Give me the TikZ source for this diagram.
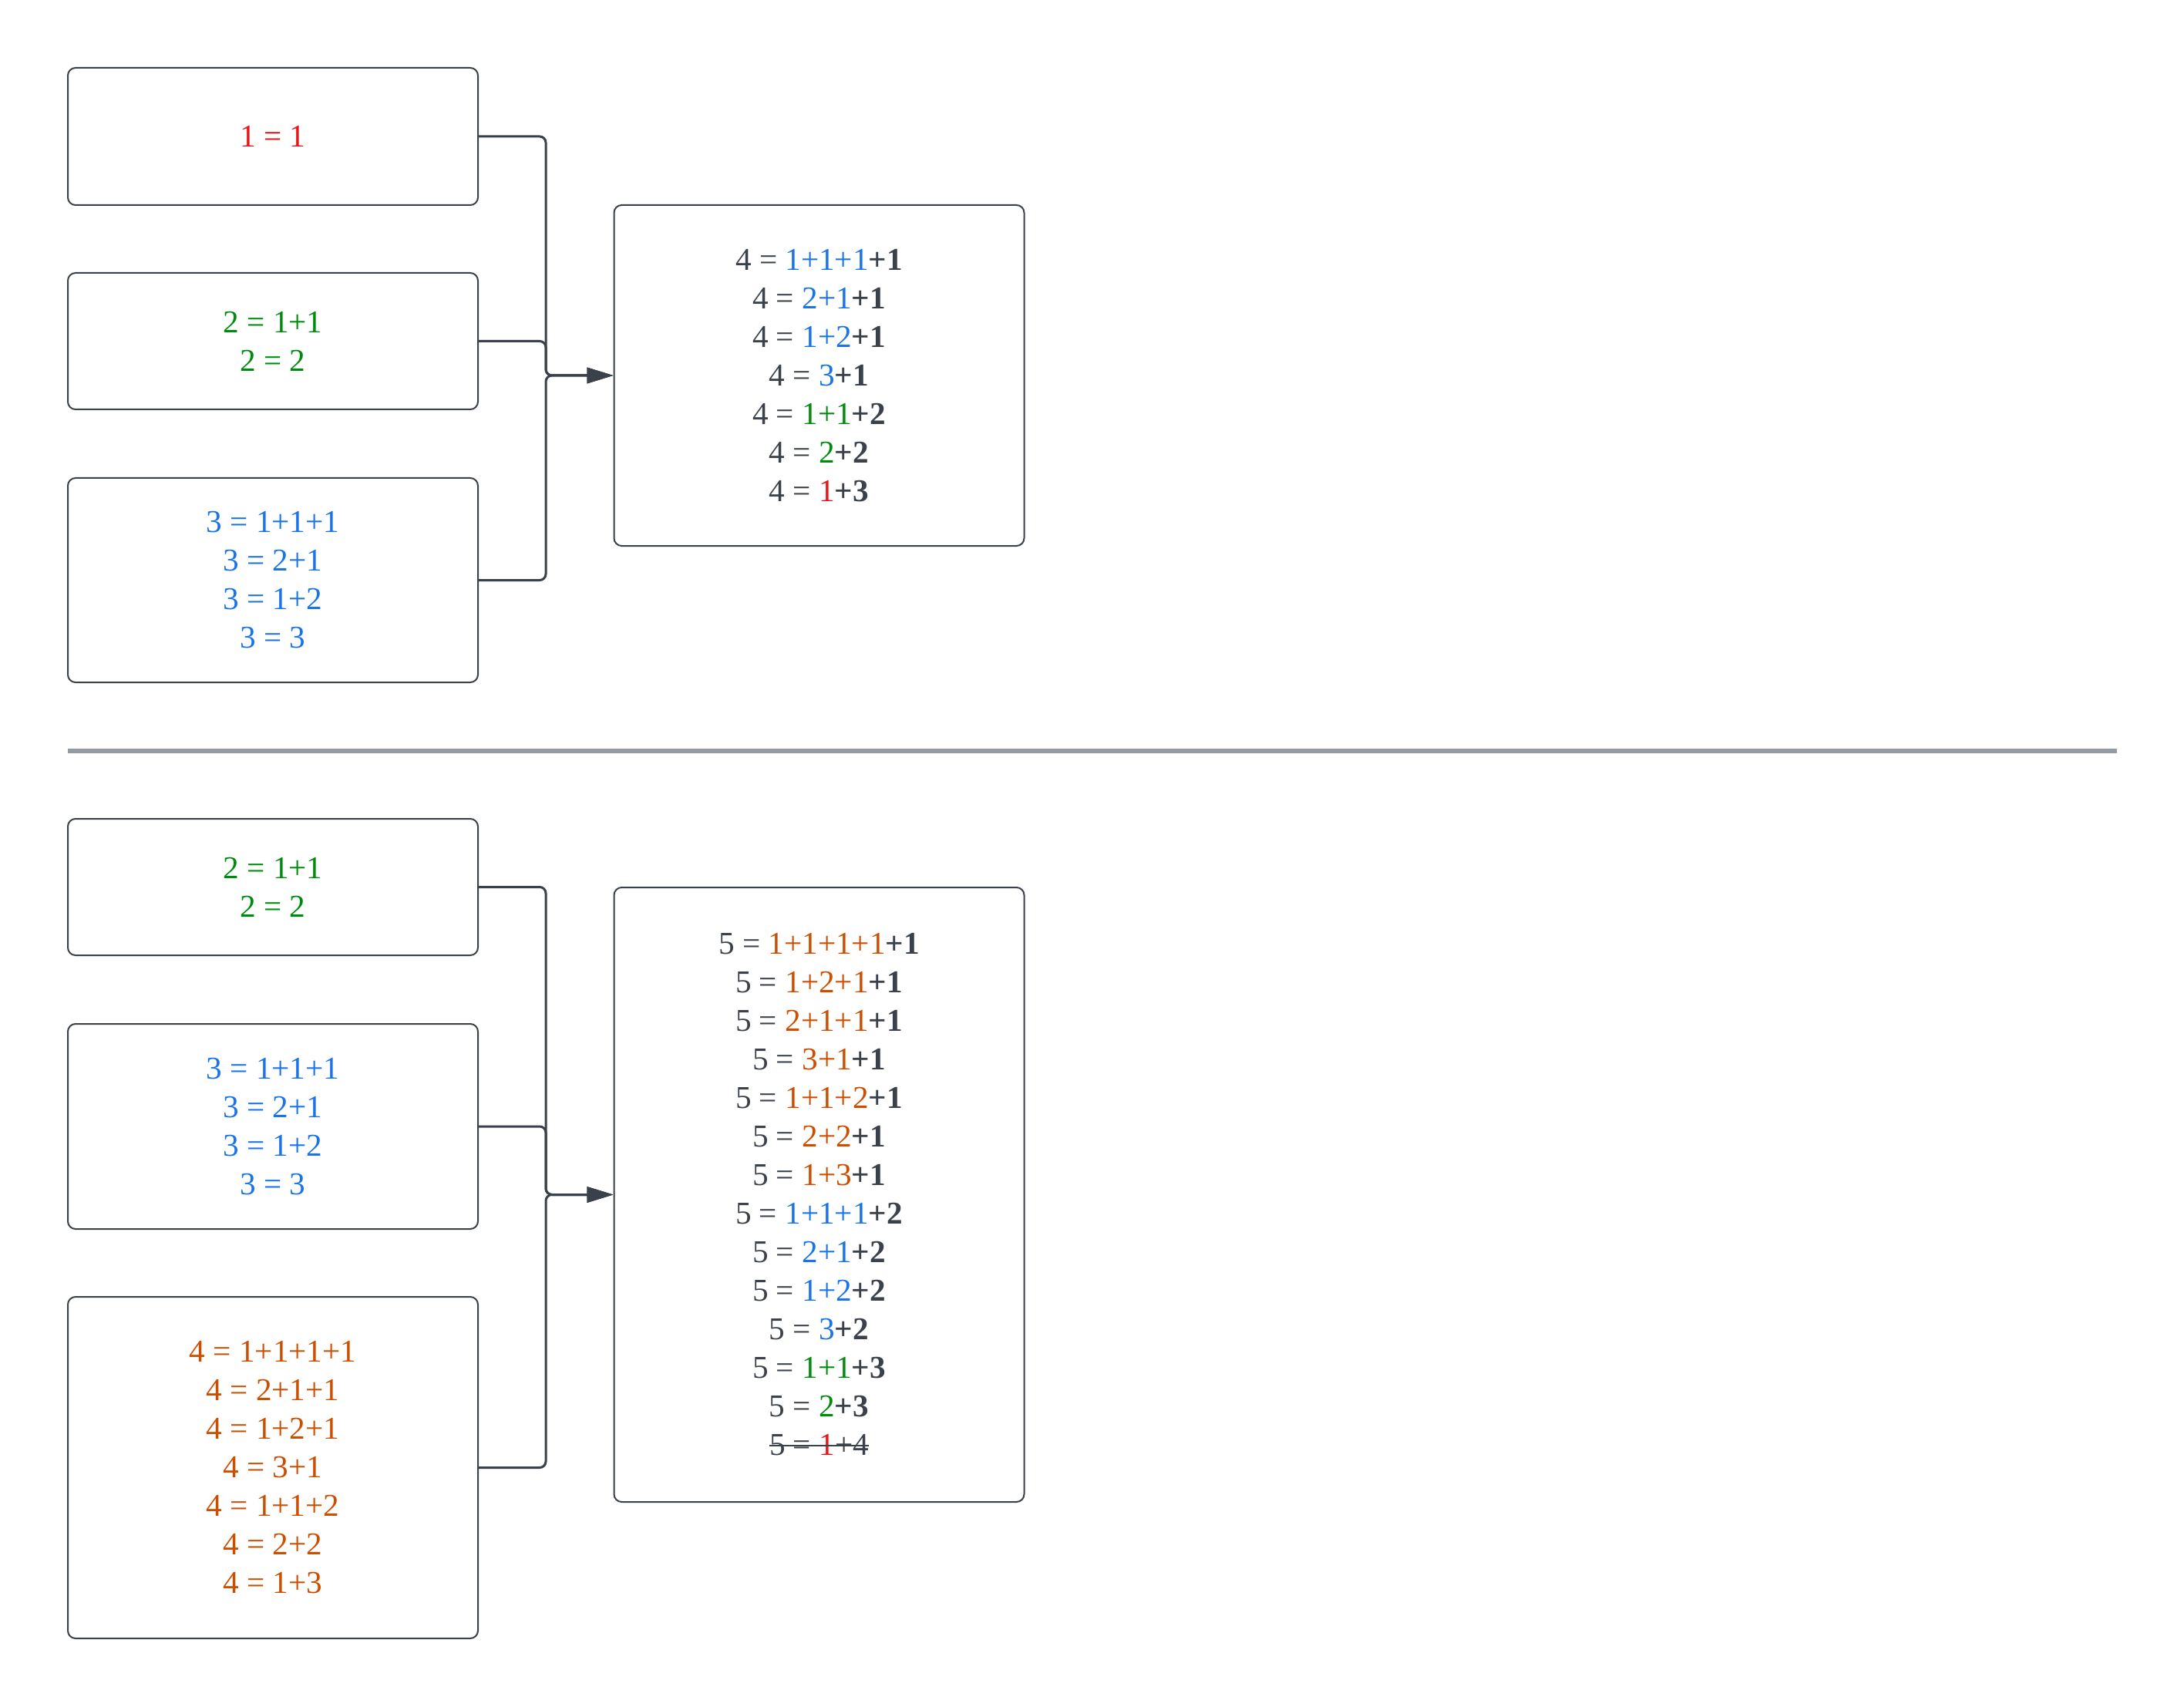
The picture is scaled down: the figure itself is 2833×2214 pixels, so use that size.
\documentclass[tikz,border=0pt]{standalone}
\usepackage{fontspec}
\setmainfont{Liberation Serif}
\usetikzlibrary{arrows.meta}
\definecolor{dk}{HTML}{3A414A}
\definecolor{rd}{HTML}{E81416}
\definecolor{gn}{HTML}{008A0E}
\definecolor{bl}{HTML}{1A73E8}
\definecolor{og}{HTML}{CC4E00}
\definecolor{sepc}{HTML}{959BA5}
\newcommand\strk[1]{\setbox0\hbox{#1}\rlap{#1}\textcolor{dk}{\rule[0.3em]{\wd0}{0.9pt}}}
\begin{document}
\begin{tikzpicture}[x=0.5pt,y=-0.5pt,
  box/.style={draw=dk,line width=1pt,rounded corners=5pt,minimum width=266pt,
    inner sep=0pt,align=center,text=dk,font=\fontsize{20.6}{25}\selectfont},
  conn/.style={draw=dk,line width=1.5pt,rounded corners=4pt,-{Triangle[length=17pt,width=10pt]}}]
\useasboundingbox (0,0) rectangle (2833,2214);
% top section
\node[box,minimum height=89pt] (A) at (354,177) {\textcolor{rd}{1 = 1}};
\node[box,minimum height=88.5pt] (B) at (354,442.5) {\textcolor{gn}{2 = 1+1}\\\textcolor{gn}{2 = 2}};
\node[box,minimum height=132.5pt] (C) at (354,752.5) {\textcolor{bl}{3 = 1+1+1}\\\textcolor{bl}{3 = 2+1}\\\textcolor{bl}{3 = 1+2}\\\textcolor{bl}{3 = 3}};
\node[box,minimum height=221pt] (R1) at (1062.5,487) {%
4 = \textcolor{bl}{1+1+1}\textbf{+1}\\
4 = \textcolor{bl}{2+1}\textbf{+1}\\
4 = \textcolor{bl}{1+2}\textbf{+1}\\
4 = \textcolor{bl}{3}\textbf{+1}\\
4 = \textcolor{gn}{1+1}\textbf{+2}\\
4 = \textcolor{gn}{2}\textbf{+2}\\
4 = \textcolor{rd}{1}\textbf{+3}};
\coordinate (j1) at (708,487);
\draw[conn] (A.east) -| (j1) -- (R1.west);
\draw[conn] (B.east) -| (j1) -- (R1.west);
\draw[conn] (C.east) -| (j1) -- (R1.west);
% separator
\coordinate (s1) at (88,974);
\coordinate (s2) at (2746,974);
\draw[sepc,line width=3pt] (s1) -- (s2);
% bottom section
\node[box,minimum height=88.5pt] (D) at (354,1150.5) {\textcolor{gn}{2 = 1+1}\\\textcolor{gn}{2 = 2}};
\node[box,minimum height=133pt] (E) at (354,1461) {\textcolor{bl}{3 = 1+1+1}\\\textcolor{bl}{3 = 2+1}\\\textcolor{bl}{3 = 1+2}\\\textcolor{bl}{3 = 3}};
\node[box,minimum height=221.5pt] (F) at (354,1903.5) {%
\textcolor{og}{4 = 1+1+1+1}\\\textcolor{og}{4 = 2+1+1}\\\textcolor{og}{4 = 1+2+1}\\\textcolor{og}{4 = 3+1}\\\textcolor{og}{4 = 1+1+2}\\\textcolor{og}{4 = 2+2}\\\textcolor{og}{4 = 1+3}};
\node[box,minimum height=398.5pt] (R2) at (1062.5,1549.5) {%
5 = \textcolor{og}{1+1+1+1}\textbf{+1}\\
5 = \textcolor{og}{1+2+1}\textbf{+1}\\
5 = \textcolor{og}{2+1+1}\textbf{+1}\\
5 = \textcolor{og}{3+1}\textbf{+1}\\
5 = \textcolor{og}{1+1+2}\textbf{+1}\\
5 = \textcolor{og}{2+2}\textbf{+1}\\
5 = \textcolor{og}{1+3}\textbf{+1}\\
5 = \textcolor{bl}{1+1+1}\textbf{+2}\\
5 = \textcolor{bl}{2+1}\textbf{+2}\\
5 = \textcolor{bl}{1+2}\textbf{+2}\\
5 = \textcolor{bl}{3}\textbf{+2}\\
5 = \textcolor{gn}{1+1}\textbf{+3}\\
5 = \textcolor{gn}{2}\textbf{+3}\\
\strk{5 = \textcolor{rd}{1}+4}};
\coordinate (j2) at (708,1549.5);
\draw[conn] (D.east) -| (j2) -- (R2.west);
\draw[conn] (E.east) -| (j2) -- (R2.west);
\draw[conn] (F.east) -| (j2) -- (R2.west);
\end{tikzpicture}
\end{document}
